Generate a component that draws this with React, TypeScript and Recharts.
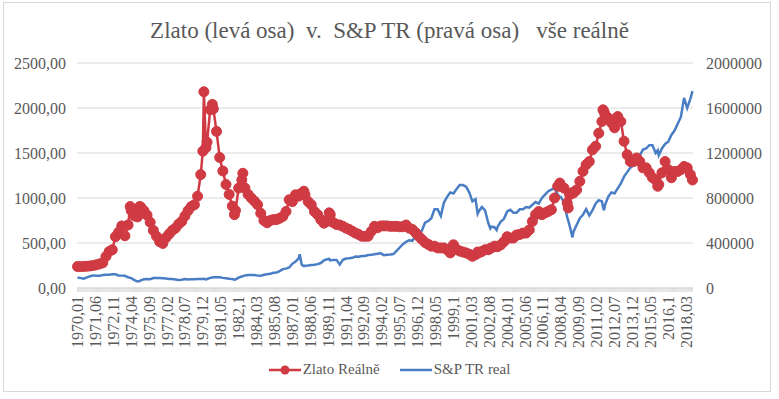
import { LineChart, Line, XAxis, YAxis, CartesianGrid } from 'recharts';

const periods = [
  '1970,01', '1970,04', '1970,07', '1970,10',
  '1971,01', '1971,04', '1971,07', '1971,10',
  '1972,01', '1972,04', '1972,07', '1972,10',
  '1973,01', '1973,04', '1973,07', '1973,10',
  '1974,01', '1974,03', '1974,04', '1974,07', '1974,10', '1974,12',
  '1975,01', '1975,04', '1975,07', '1975,10',
  '1976,01', '1976,04', '1976,07', '1976,10',
  '1977,01', '1977,04', '1977,07', '1977,10',
  '1978,01', '1978,04', '1978,07', '1978,10',
  '1979,01', '1979,04', '1979,07', '1979,10', '1979,12',
  '1980,01', '1980,03', '1980,04', '1980,07', '1980,09', '1980,10',
  '1981,01', '1981,04', '1981,07', '1981,10',
  '1982,01', '1982,04', '1982,06', '1982,07', '1982,10',
  '1983,01', '1983,02', '1983,04', '1983,07', '1983,10',
  '1984,01', '1984,04', '1984,07', '1984,10',
  '1985,01', '1985,04', '1985,07', '1985,10',
  '1986,01', '1986,04', '1986,07', '1986,10',
  '1987,01', '1987,04', '1987,07', '1987,08', '1987,10', '1987,12',
  '1988,01', '1988,04', '1988,07', '1988,10',
  '1989,01', '1989,04', '1989,07', '1989,10', '1989,12',
  '1990,01', '1990,04', '1990,07', '1990,10',
  '1991,01', '1991,04', '1991,07', '1991,10',
  '1992,01', '1992,04', '1992,07', '1992,10',
  '1993,01', '1993,04', '1993,07', '1993,10',
  '1994,01', '1994,04', '1994,07', '1994,10',
  '1995,01', '1995,04', '1995,07', '1995,10',
  '1996,01', '1996,04', '1996,07', '1996,10',
  '1997,01', '1997,04', '1997,07', '1997,10',
  '1998,01', '1998,04', '1998,07', '1998,10',
  '1999,01', '1999,04', '1999,07', '1999,10',
  '2000,01', '2000,04', '2000,07', '2000,10',
  '2001,01', '2001,04', '2001,07', '2001,09', '2001,10',
  '2002,01', '2002,04', '2002,07', '2002,09', '2002,10',
  '2003,01', '2003,03', '2003,04', '2003,07', '2003,10',
  '2004,01', '2004,04', '2004,07', '2004,10',
  '2005,01', '2005,04', '2005,07', '2005,10',
  '2006,01', '2006,04', '2006,07', '2006,10',
  '2007,01', '2007,04', '2007,07', '2007,10',
  '2008,01', '2008,03', '2008,04', '2008,07', '2008,10', '2008,11',
  '2009,01', '2009,03', '2009,04', '2009,07', '2009,10',
  '2010,01', '2010,04', '2010,07', '2010,10',
  '2011,01', '2011,04', '2011,07', '2011,08', '2011,09', '2011,10',
  '2012,01', '2012,04', '2012,07', '2012,10',
  '2013,01', '2013,04', '2013,07', '2013,10',
  '2014,01', '2014,04', '2014,07', '2014,10',
  '2015,01', '2015,04', '2015,07', '2015,10', '2015,12',
  '2016,01', '2016,04', '2016,07', '2016,10',
  '2017,01', '2017,04', '2017,07', '2017,10',
  '2018,01', '2018,04', '2018,07', '2018,09',
];

// Zlato Reálně (levá osa)
const gold = [
  238, 238, 240, 242,
  245, 250, 258, 268,
  280, 350, 405, 425,
  570, 620, 690, 580,
  700, 905, 860, 800, 790, 905,
  900, 860, 810, 730,
  640, 575, 515, 495,
  560, 600, 640, 665,
  710, 740, 800, 860,
  905, 925, 1020, 1260, 1520,
  2180, 1560, 1620, 1980, 2040, 1990,
  1740, 1450, 1300, 1150,
  1040, 910, 815, 860, 1110,
  1200, 1275, 1110, 1040, 1000,
  965, 925, 830, 750,
  725, 750, 760, 760,
  775, 795, 850, 980,
  960, 1035, 1020, 1040, 1055, 1075,
  1035, 960, 925, 850,
  815, 760, 720, 740, 835,
  815, 725, 705, 700,
  685, 665, 650, 630,
  610, 595, 575, 575,
  575, 630, 685, 670,
  690, 690, 690, 685,
  685, 685, 680, 680,
  700, 665, 650, 615,
  575, 540, 505, 485,
  465, 465, 445, 445,
  445, 425, 390, 480,
  430, 410, 400, 390,
  375, 352, 370, 400, 390,
  405, 425, 425, 440, 445,
  465, 460, 460, 480, 515,
  570, 555, 555, 590,
  595, 610, 610, 645,
  740, 815, 850, 815,
  835, 850, 870, 1000,
  1130, 1166, 1130, 1110, 945, 890,
  1040, 1060, 1055, 1090, 1185,
  1296, 1370, 1405, 1535,
  1575, 1720, 1850, 1980, 1960, 1925,
  1890, 1835, 1780, 1905,
  1850, 1630, 1480, 1405,
  1405, 1445, 1405, 1335,
  1335, 1280, 1225, 1200, 1130,
  1150, 1280, 1405, 1315,
  1225, 1295, 1295, 1315,
  1350, 1335, 1260, 1200,
];

// S&P TR real (pravá osa)
const spReal = [
  94000, 88000, 83000, 95000,
  105000, 112000, 108000, 108000,
  115000, 118000, 118000, 122000,
  122000, 112000, 110000, 108000,
  95000, 90000, 88000, 70000, 58000, 62000,
  68000, 78000, 80000, 78000,
  88000, 88000, 88000, 86000,
  84000, 80000, 80000, 76000,
  72000, 74000, 80000, 76000,
  78000, 78000, 80000, 80000, 80000,
  82000, 76000, 80000, 90000, 94000, 96000,
  96000, 96000, 90000, 86000,
  82000, 80000, 74000, 76000, 92000,
  102000, 106000, 112000, 116000, 116000,
  115000, 110000, 108000, 118000,
  122000, 126000, 135000, 138000,
  150000, 168000, 172000, 182000,
  215000, 235000, 262000, 300000, 205000, 195000,
  198000, 200000, 205000, 207000,
  212000, 222000, 245000, 255000, 258000,
  245000, 250000, 250000, 208000,
  250000, 262000, 264000, 268000,
  280000, 278000, 285000, 284000,
  293000, 296000, 300000, 305000,
  308000, 292000, 295000, 298000,
  302000, 330000, 360000, 390000,
  410000, 425000, 420000, 465000,
  495000, 510000, 580000, 595000,
  620000, 700000, 700000, 640000,
  760000, 810000, 850000, 840000,
  880000, 915000, 915000, 900000,
  850000, 770000, 790000, 660000, 680000,
  720000, 690000, 580000, 530000, 545000,
  540000, 515000, 545000, 590000, 615000,
  680000, 695000, 670000, 670000,
  700000, 700000, 720000, 715000,
  740000, 765000, 750000, 800000,
  830000, 860000, 875000, 890000,
  830000, 810000, 810000, 760000, 630000, 600000,
  530000, 450000, 500000, 560000, 620000,
  650000, 700000, 645000, 690000,
  750000, 780000, 770000, 720000, 690000, 740000,
  810000, 850000, 840000, 885000,
  930000, 990000, 1030000, 1070000,
  1090000, 1140000, 1180000, 1230000,
  1240000, 1270000, 1270000, 1200000, 1225000,
  1180000, 1240000, 1280000, 1300000,
  1360000, 1400000, 1460000, 1520000,
  1690000, 1600000, 1680000, 1750000,
];

const tickLabels = [
  '1970,01', '1971,06', '1972,11', '1974,04', '1975,09', '1977,02', '1978,07',
  '1979,12', '1981,05', '1982,1', '1984,03', '1985,08', '1987,01', '1988,06',
  '1989,11', '1991,04', '1992,09', '1994,02', '1995,07', '1996,12', '1998,05',
  '1999,1', '2001,03', '2002,08', '2004,01', '2005,06', '2006,11', '2008,04',
  '2009,09', '2011,02', '2012,07', '2013,12', '2015,05', '2016,1', '2018,03',
];

const leftTicks = [0, 500, 1000, 1500, 2000, 2500];
const rightTicks = [0, 200000, 400000, 600000, 800000, 1000000, 1200000, 1400000, 1600000, 1800000, 2000000];

const RED = '#CF3A43';
const BLUE = '#4A7EC4';
const TEXT = '#595959';
const GRID = '#d9d9d9';
const FONT = '"Liberation Serif", "DejaVu Serif", serif';
const LABEL_STEP = 17;
const LAST_MONTH = 584;
const TICK_LEN = 4;
const TICK_GAP = 4;

const monthIndex = (p: string) => {
  const [y, m] = p.split(',');
  return (Number(y) - 1970) * 12 + Number(m) - 1;
};

const data = periods.map((p, i) => ({ m: monthIndex(p), gold: gold[i], sp: spReal[i] }));
const monthTicks = Array.from({ length: LAST_MONTH + 1 }, (_, i) => i);

// every month gets a small tick mark, only every 17th gets a label (like excel)
const MonthTick = (props: any) => {
  const { x, y, payload } = props;
  const v = payload.value;
  const axisY = y - TICK_LEN - TICK_GAP;
  return (
    <g>
      <line x1={x} y1={axisY} x2={x} y2={axisY + TICK_LEN} stroke={GRID} strokeWidth={0.8} />
      {v % LABEL_STEP === 0 && (
        <text
          x={x}
          y={y}
          transform={`rotate(-90 ${x} ${y})`}
          textAnchor="end"
          dominantBaseline="central"
          fill={TEXT}
          fontSize={16}
          fontFamily={FONT}
        >
          {tickLabels[v / LABEL_STEP]}
        </text>
      )}
    </g>
  );
};

const App = () => {
  return (
    <div style={{ position: 'absolute', left: 0, top: 0, width: 779, height: 399, background: '#fff' }}>
      <div
        style={{
          position: 'absolute', left: 3, top: 2, width: 768, height: 390,
          border: `1px solid ${GRID}`, boxSizing: 'border-box',
        }}
      />
      <div
        style={{
          position: 'absolute', left: 0, top: 18, width: 779, textAlign: 'center',
          fontFamily: FONT, fontSize: 23, color: TEXT, whiteSpace: 'pre',
        }}
      >
        {'Zlato (levá osa)  v.  S&P TR (pravá osa)   vše reálně'}
      </div>
      <LineChart
        width={779}
        height={399}
        data={data}
        margin={{ top: 63, right: 0, bottom: 41, left: 0 }}
        style={{ position: 'absolute', left: 0, top: 0 }}
      >
        <CartesianGrid yAxisId="left" vertical={false} stroke={GRID} />
        <XAxis
          type="number"
          dataKey="m"
          domain={[-0.5, LAST_MONTH + 0.5]}
          ticks={monthTicks}
          interval={0}
          height={70}
          axisLine={{ stroke: GRID }}
          tickLine={false}
          tickSize={TICK_LEN}
          tickMargin={TICK_GAP}
          tick={MonthTick}
        />
        <YAxis
          yAxisId="left"
          width={77}
          domain={[0, 2500]}
          ticks={leftTicks}
          axisLine={false}
          tickLine={false}
          tickMargin={5}
          tickFormatter={(v: number) => v.toFixed(2).replace('.', ',')}
          tick={{ fill: TEXT, fontSize: 16, fontFamily: FONT }}
        />
        <YAxis
          yAxisId="right"
          orientation="right"
          width={86}
          domain={[0, 2000000]}
          ticks={rightTicks}
          axisLine={false}
          tickLine={false}
          tickMargin={7}
          tick={{ fill: TEXT, fontSize: 16, fontFamily: FONT, textAnchor: 'start' }}
        />
        <Line
          yAxisId="left"
          dataKey="gold"
          name="Zlato Reálně"
          stroke={RED}
          strokeWidth={2.5}
          dot={{ r: 5, fill: RED, stroke: RED, strokeWidth: 1 }}
          isAnimationActive={false}
        />
        <Line
          yAxisId="right"
          dataKey="sp"
          name="S&P TR real"
          stroke={BLUE}
          strokeWidth={2.5}
          dot={false}
          isAnimationActive={false}
        />
      </LineChart>
      <div
        style={{
          position: 'absolute', left: 0, top: 361, width: 779, display: 'flex',
          justifyContent: 'center', alignItems: 'center', fontFamily: FONT, fontSize: 15, color: TEXT,
        }}
      >
        <svg width={32} height={12} style={{ marginRight: 2 }}>
          <line x1={0} y1={6} x2={32} y2={6} stroke={RED} strokeWidth={2.5} />
          <circle cx={16} cy={6} r={4.5} fill={RED} />
        </svg>
        <span style={{ marginRight: 20 }}>Zlato Reálně</span>
        <svg width={32} height={12} style={{ marginRight: 2 }}>
          <line x1={0} y1={6} x2={32} y2={6} stroke={BLUE} strokeWidth={2.5} />
        </svg>
        <span>S&P TR real</span>
      </div>
    </div>
  );
};

export default App;
